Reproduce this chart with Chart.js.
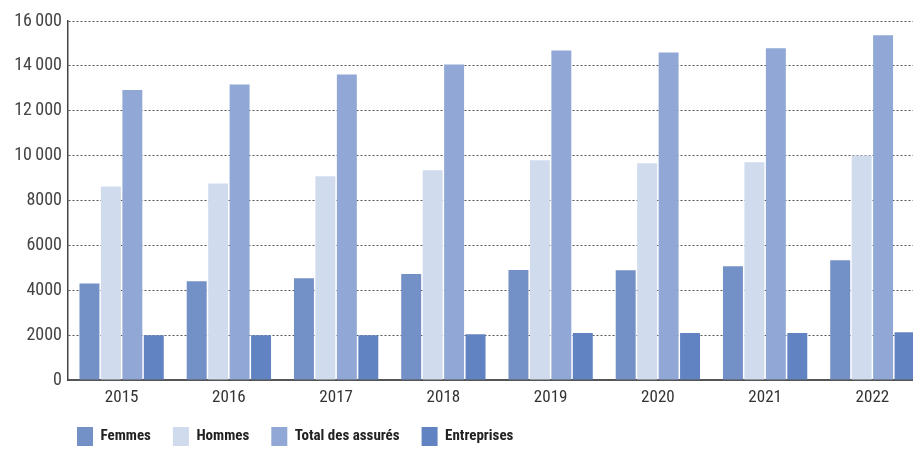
<!DOCTYPE html>
<html>
<head>
<meta charset="utf-8">
<script src="https://cdn.jsdelivr.net/npm/chart.js@4"></script>
<style>
  html, body { margin: 0; padding: 0; background: #fff; overflow: hidden; }
  #wrap { width: 913px; height: 451px; overflow: hidden; position: relative; }
</style>
</head>
<body>
<div id="wrap"><canvas id="chart" width="926" height="451"></canvas></div>
<script>
const years = ["2015", "2016", "2017", "2018", "2019", "2020", "2021", "2022"];
const femmes = [4300, 4400, 4540, 4720, 4900, 4890, 5070, 5340];
const hommes = [8620, 8760, 9080, 9350, 9790, 9660, 9700, 10010];
const totalAssures = [12930, 13170, 13620, 14060, 14690, 14600, 14780, 15360];
const entreprises = [1990, 2000, 2000, 2040, 2090, 2090, 2090, 2130];
const yTicks = [0, 2000, 4000, 6000, 8000, 10000, 12000, 14000, 16000];

const font = "'Liberation Sans Narrow', Roboto, sans-serif";

// legend starts under the first bar, not at the canvas edge
const legendShift = {
    id: "legendShift",
    afterLayout(chart) {
        chart.legend.left = 77 - chart.legend.options.labels.padding;
    },
};

function fmt(v) {
    // "16 000" style for five digit values, "8000" otherwise
    let s = String(v);
    if (v >= 10000) s = s.slice(0, -3) + "\u2009" + s.slice(-3);
    return s;
}

new Chart(document.getElementById("chart"), {
    type: "bar",
    data: {
        labels: years,
        datasets: [
            { label: "Femmes", data: femmes, backgroundColor: "#7390c7" },
            { label: "Hommes", data: hommes, backgroundColor: "#d0dbee" },
            { label: "Total des assurés", data: totalAssures, backgroundColor: "#91a8d6" },
            { label: "Entreprises", data: entreprises, backgroundColor: "#6283c2" },
        ],
    },
    options: {
        responsive: false,
        animation: false,
        devicePixelRatio: 1,
        layout: { padding: { top: 21, left: 0, right: 0, bottom: 0 } },
        datasets: {
            bar: { categoryPercentage: 0.8, barPercentage: 0.93 },
        },
        scales: {
            x: {
                grid: { display: false, drawTicks: false },
                border: { display: true, color: "#555", width: 2 },
                ticks: {
                    color: "#333",
                    // weight slot carries the stretch keyword too
                    font: { family: font, size: 17, weight: "condensed" },
                    padding: 8,
                },
                afterFit: (s) => { s.height = 25; },
            },
            y: {
                min: 0,
                max: 16000,
                afterBuildTicks: (s) => { s.ticks = yTicks.map((v) => ({ value: v })); },
                grid: {
                    color: "#555",
                    lineWidth: 1,
                    drawTicks: false,
                },
                border: { display: true, color: "#444", width: 1.5, dash: [2, 2] },
                ticks: {
                    color: "#444",
                    font: { family: font, size: 18, weight: "condensed" },
                    padding: 6,
                    callback: (v) => fmt(v),
                },
                afterFit: (s) => { s.width = 68; },
            },
        },
        plugins: {
            legend: {
                position: "bottom",
                align: "start",
                maxHeight: 46,
                labels: {
                    boxWidth: 16,
                    boxHeight: 19,
                    padding: 22,
                    color: "#222",
                    font: { family: font, size: 15, weight: "condensed bold" },
                },
            },
            tooltip: { enabled: false },
        },
    },
    plugins: [legendShift],
});
</script>
</body>
</html>
